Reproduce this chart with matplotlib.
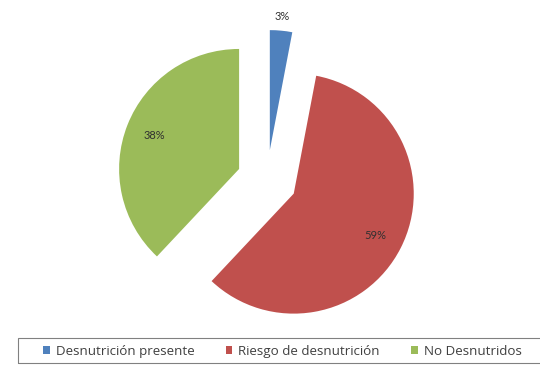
import matplotlib
matplotlib.use("Agg")
import matplotlib.pyplot as plt
from matplotlib.patches import Rectangle
import numpy as np

plt.rcParams['font.family'] = ['Lato', 'DejaVu Sans']

categorias = ['Desnutrición presente', 'Riesgo de desnutrición', 'No Desnutridos']
porcentajes = [3, 59, 38]
colores = ['#4F81BD', '#C0504D', '#9BBB59']
separacion = [0.25, 0.25, 0.25]

fig = plt.figure(figsize=(5.4, 3.66), dpi=100)
ax = fig.add_axes([87 / 540, 6 / 366, 360 / 540, 360 / 366])

wedges, textos, pcts = ax.pie(porcentajes, colors=colores, explode=separacion,
                              startangle=90, counterclock=False,
                              autopct='%1.0f%%', pctdistance=0.76,
                              textprops={'fontsize': 8, 'color': '#303030'})
ax.set_xlim(-1.5, 1.5)
ax.set_ylim(-1.5, 1.5)
ax.set_aspect('equal')

# el porcentaje pequeño va fuera de su sector
for w, t, p in zip(wedges, pcts, porcentajes):
    if p < 5:
        ang = np.deg2rad((w.theta1 + w.theta2) / 2)
        cx, cy = w.center
        t.set_position((cx + 1.12 * np.cos(ang), cy + 1.12 * np.sin(ang)))

# marco de la leyenda (se sale por la derecha)
fig.patches.append(Rectangle((18 / 540, 3 / 366), 1.0, 25 / 366,
                             transform=fig.transFigure, fill=False,
                             edgecolor='#808080', linewidth=0.8))

leg = fig.legend(wedges, categorias, loc='center left', ncol=3,
                 bbox_to_anchor=(43 / 540, 1 - 351.5 / 366),
                 borderaxespad=0, borderpad=0,
                 prop={'family': ['Open Sans', 'DejaVu Sans'], 'size': 9.6},
                 frameon=False,
                 handlelength=0.5, handleheight=0.5, handletextpad=0.45,
                 columnspacing=2.35)
for t in leg.get_texts():
    t.set_color('#404040')

fig.savefig('out.png', dpi=100)
